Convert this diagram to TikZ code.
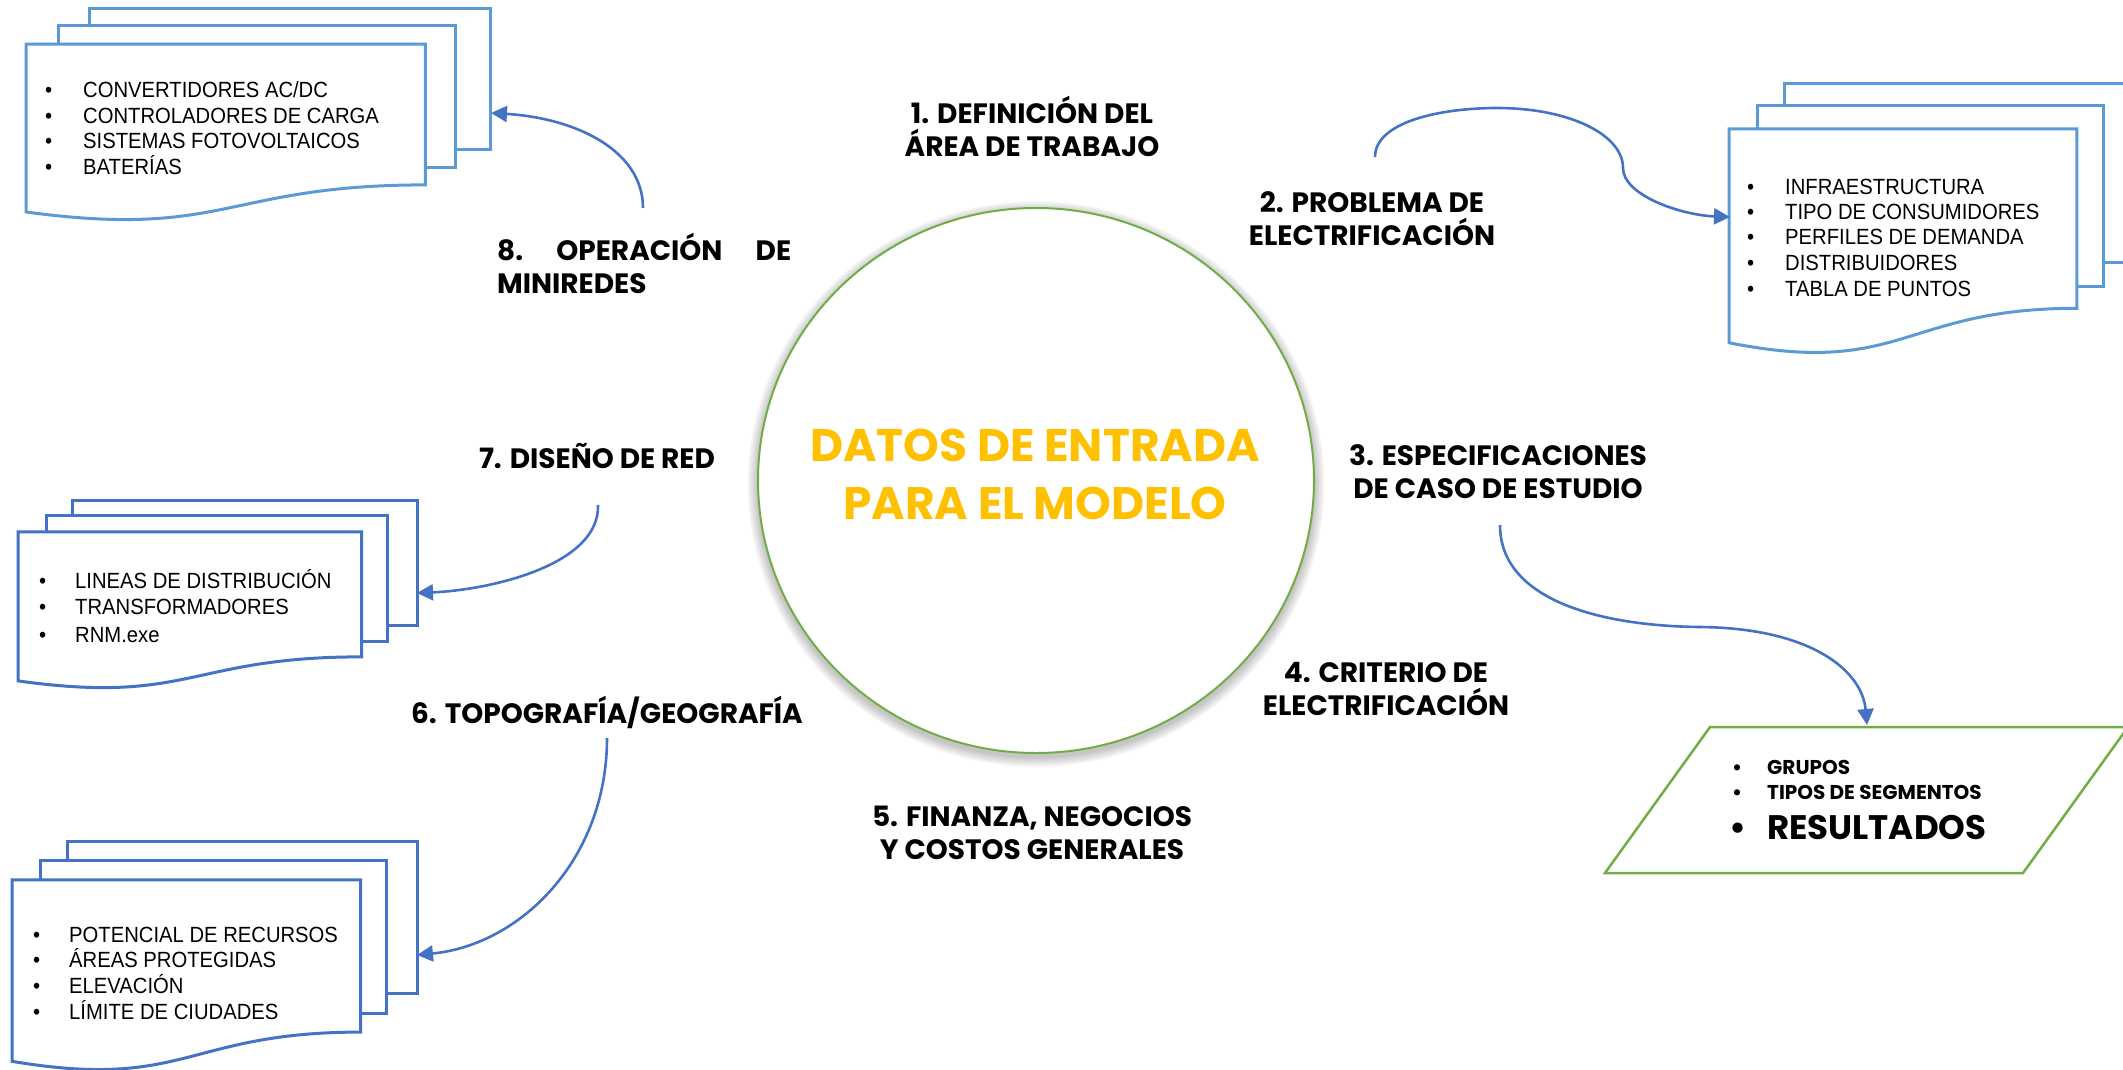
\documentclass[tikz,border=0pt]{standalone}
\usepackage{fontspec}
\setmainfont{Poppins}
\newfontfamily\listfont[FakeStretch=0.92]{Liberation Sans}
\usetikzlibrary{arrows.meta,shapes.geometric}
\definecolor{docblue}{HTML}{5B9BD5}
\definecolor{darkblue}{HTML}{4472C4}
\definecolor{arrowblue}{HTML}{4472C4}
\definecolor{okgreen}{HTML}{70AD47}
\definecolor{gold}{HTML}{FFC000}

\newcommand{\multidoc}[5]{%
 \begin{scope}[shift={(#1,#2)}, x=#3pt, y=-#4pt, line width=3pt, draw=#5, fill=white, line join=miter]
  \filldraw (0.1376,0) rectangle (1,0.6663);
  \filldraw (0.0709,0.0840) rectangle (0.9259,0.7524);
  \filldraw (0,0.1701) -- (0.8609,0.1701) -- (0.8609,0.8344) .. controls (0.4305,0.8344) and (0.4305,1.0899) .. (0,0.9621) -- cycle;
 \end{scope}}

\newcommand{\listline}[5]{% name, bullet x, baseline y, gap, text
  \node[listtxt, anchor=base west] (#1) at (#2,#3) {\makebox[#4pt][l]{\textbullet}#5};}

\tikzset{
  listtxt/.style={font=\listfont\fontsize{22}{26}\selectfont, inner sep=0pt},
  lbl/.style={font=\bfseries\fontsize{28}{33}\selectfont, align=center, inner sep=0pt},
  restxt/.style={font=\bfseries\fontsize{20}{24}\selectfont, inner sep=0pt},
  conn/.style={draw=arrowblue, line width=2.6pt, -{Triangle[length=16pt,width=16pt]}},
}

\begin{document}
\begin{tikzpicture}[x=1pt,y=-1pt]
\useasboundingbox (0,0) rectangle (2123,1069);

% documents
\multidoc{26}{8}{464}{212}{docblue}
\multidoc{1729}{83}{404}{270}{docblue}
\multidoc{18}{500}{399}{188}{darkblue}
\multidoc{12}{841}{405}{229}{darkblue}

% list texts
\listline{d8a}{45}{97}{38}{CONVERTIDORES AC/DC}
\listline{d8b}{45}{123}{38}{CONTROLADORES DE CARGA}
\listline{d8c}{45}{148}{38}{SISTEMAS FOTOVOLTAICOS}
\listline{d8d}{45}{174}{38}{BATERÍAS}

\listline{d2a}{1747}{194}{38}{INFRAESTRUCTURA}
\listline{d2b}{1747}{219}{38}{TIPO DE CONSUMIDORES}
\listline{d2c}{1747}{244}{38}{PERFILES DE DEMANDA}
\listline{d2d}{1747}{270}{38}{DISTRIBUIDORES}
\listline{d2e}{1747}{296}{38}{TABLA DE PUNTOS}

\listline{d7a}{39}{588}{36}{LINEAS DE DISTRIBUCIÓN}
\listline{d7b}{39}{614}{36}{TRANSFORMADORES}
\listline{d7c}{39}{642}{36}{RNM.exe}

\listline{d6a}{33}{942}{36}{POTENCIAL DE RECURSOS}
\listline{d6b}{33}{967}{36}{ÁREAS PROTEGIDAS}
\listline{d6c}{33}{993}{36}{ELEVACIÓN}
\listline{d6d}{33}{1019}{36}{LÍMITE DE CIUDADES}

% central circle with soft shadow
\foreach \i in {1,...,8} {
  \fill[black, opacity=0.03] (1036,484) ellipse [x radius={278pt+1.3pt*\i}, y radius={272.5pt+1.3pt*\i}];
}
\node[ellipse, draw=okgreen, line width=2pt, fill=white, minimum width=556pt, minimum height=545pt, inner sep=0pt] (circ) at (1036,480.5) {};
\node[font=\bfseries\fontsize{45.5}{58}\selectfont, text=gold, align=center, inner sep=0pt] (main) at (1035,474) {DATOS DE ENTRADA\\PARA EL MODELO};

% labels
\node[lbl] (l1) at (1032,126) {1. DEFINICIÓN DEL\\ÁREA DE TRABAJO};
\node[lbl] (l2) at (1372,219) {2. PROBLEMA DE\\ELECTRIFICACIÓN};
\node[lbl] (l3) at (1498,472) {3. ESPECIFICACIONES\\DE CASO DE ESTUDIO};
\node[lbl] (l4) at (1386,689) {4. CRITERIO DE\\ELECTRIFICACIÓN};
\node[lbl] (l5) at (1032,833) {5. FINANZA, NEGOCIOS\\Y COSTOS GENERALES};
\node[lbl] (l6) at (607,712) {6. TOPOGRAFÍA/GEOGRAFÍA};
\node[lbl] (l7) at (597,456) {7. DISEÑO DE RED};
\node[lbl, align=left, text width=294pt, anchor=west] (l8) at (497,263) {8.\hfill OPERACIÓN\hfill DE\\MINIREDES};

% results parallelogram
\draw[okgreen, line width=2.5pt, line join=miter] (1710,727) -- (2128,727) -- (2023,873) -- (1605,873) -- cycle;
\node[restxt, anchor=base west] (r1) at (1732,774) {\makebox[35pt][l]{\textbullet}GRUPOS};
\node[restxt, anchor=base west] (r2) at (1732,799) {\makebox[35pt][l]{\textbullet}TIPOS DE SEGMENTOS};
\node[restxt, anchor=base west, font=\bfseries\fontsize{34}{40}\selectfont] (r3) at (1729,839) {\makebox[38pt][l]{\textbullet}RESULTADOS};

% connector end points
\coordinate (a8s) at (643,208);
\coordinate (a8e) at (491,113);
\coordinate (a2s) at (1375,157);
\coordinate (a2e) at (1730,217);
\coordinate (a3s) at (1500,525);
\coordinate (a3e) at (1867,725);
\coordinate (a7s) at (598,505);
\coordinate (a7e) at (417,593);
\coordinate (a6s) at (607,738);
\coordinate (a6e) at (417,955);

% connectors
\draw[conn] (a8s) .. controls (643,150) and (575,118) .. (a8e);
\draw[conn] (a2s) .. controls (1375,122) and (1440,108) .. (1497,108) .. controls (1570,108) and (1623,135) .. (1623,168) .. controls (1623,195) and (1680,215) .. (a2e);
\draw[conn] (a3s) .. controls (1500,600) and (1600,626) .. (1700,627) .. controls (1810,628) and (1862,670) .. (a3e);
\draw[conn] (a7s) .. controls (600,565) and (490,590) .. (a7e);
\draw[conn] (a6s) .. controls (607,860) and (520,945) .. (a6e);
\end{tikzpicture}
\end{document}
